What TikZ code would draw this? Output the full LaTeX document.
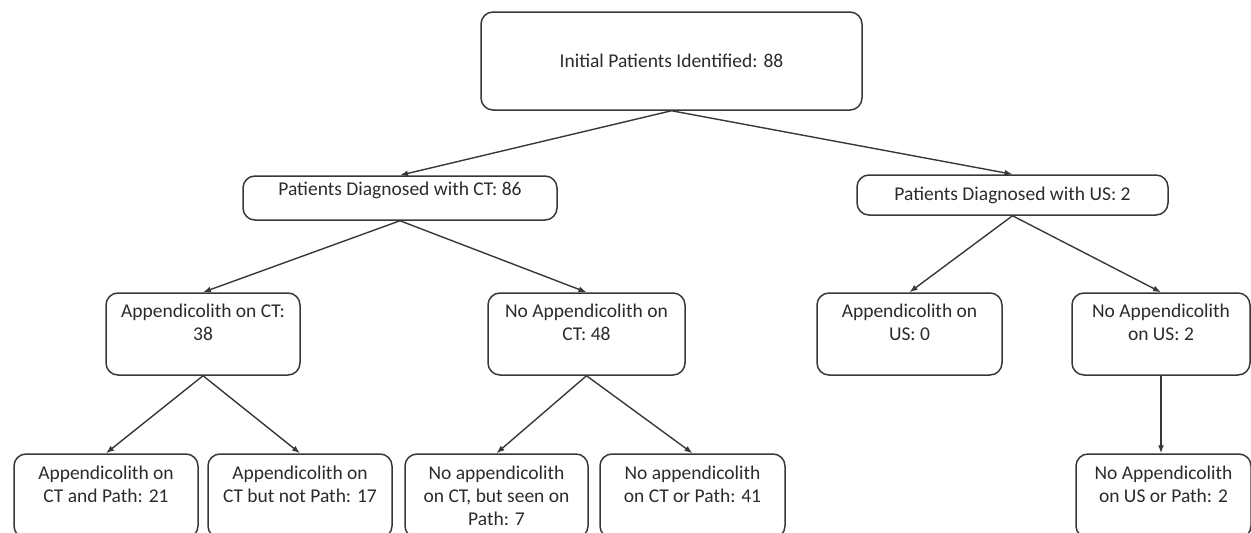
\documentclass[tikz,border=0pt]{standalone}
\usepackage{fontspec}
\setmainfont{Carlito}
\usetikzlibrary{arrows.meta}
\definecolor{linegray}{HTML}{383838}
\definecolor{textgray}{HTML}{2B2B2B}

\begin{document}
\begin{tikzpicture}[
    x=1pt, y=-1pt,
    flowbox/.style={rectangle, rounded corners=12pt, draw=linegray, line width=1.5pt, text=textgray, align=center, inner sep=0pt, font=\fontsize{19.5}{23}\selectfont},
    arrow/.style={-{Latex[length=8pt,width=6pt]}, draw=linegray, line width=1.4pt}
]
    \useasboundingbox (0,0) rectangle (1251,533);

    % Initial
    \node[flowbox, minimum width=381pt, minimum height=98pt] (init) at (671.5,61) {Initial Patients Identified: 88};

    % Imaging
    \node[flowbox, minimum width=314pt, minimum height=44pt, text depth=18pt] (ct) at (400,198) {Patients Diagnosed with CT: 86};
    \node[flowbox, minimum width=311pt, minimum height=40pt] (us) at (1012.5,195) {Patients Diagnosed with US: 2};

    \draw[arrow] (init.south) -- (ct.north);
    \draw[arrow] (init.south) -- (us.north);

    % Appendicolith on imaging
    \node[flowbox, minimum width=194pt, minimum height=82pt] (aplct) at (203,334) {Appendicolith on CT:\\ 38\\ ~};
    \node[flowbox, minimum width=197pt, minimum height=82pt] (noaplct) at (586.5,334) {No Appendicolith on\\ CT: 48\\ ~};
    \node[flowbox, minimum width=185pt, minimum height=82pt] (aplus) at (909.5,334) {Appendicolith on\\ US: 0\\ ~};
    \node[flowbox, minimum width=178pt, minimum height=82pt] (noaplus) at (1161,334) {No Appendicolith\\ on US: 2\\ ~};

    \draw[arrow] (ct.south) -- (aplct.north);
    \draw[arrow] (ct.south) -- (noaplct.north);
    \draw[arrow] (us.south) -- (aplus.north);
    \draw[arrow] (us.south) -- (noaplus.north);

    % Pathology
    \node[flowbox, minimum width=184pt, minimum height=84pt] (ctpath) at (106,496) {Appendicolith on\\ CT and Path: 21\\ ~};
    \node[flowbox, minimum width=184pt, minimum height=84pt] (ctnopath) at (300,496) {Appendicolith on\\ CT but not Path: 17\\ ~};
    \node[flowbox, minimum width=183pt, minimum height=84pt] (noctpath) at (496.5,496) {No appendicolith\\ on CT, but seen on\\ Path: 7};
    \node[flowbox, minimum width=185pt, minimum height=84pt] (noctnopath) at (692.5,496) {No appendicolith\\ on CT or Path: 41\\ ~};
    \node[flowbox, minimum width=175pt, minimum height=84pt] (nousnopath) at (1163.5,496) {No Appendicolith\\ on US or Path: 2\\ ~};

    \draw[arrow] (aplct.south) -- (ctpath.north);
    \draw[arrow] (aplct.south) -- (ctnopath.north);
    \draw[arrow] (noaplct.south) -- (noctpath.north);
    \draw[arrow] (noaplct.south) -- (noctnopath.north);
    \draw[arrow] (noaplus.south) -- (noaplus.south |- nousnopath.north);
\end{tikzpicture}
\end{document}
